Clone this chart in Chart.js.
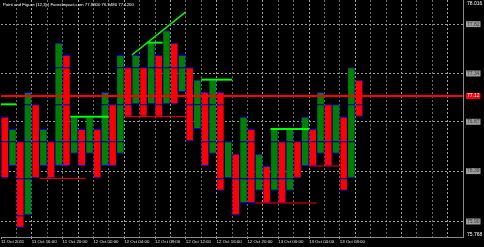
<!DOCTYPE html>
<html>
<head>
<meta charset="utf-8">
<script src="https://cdn.jsdelivr.net/npm/chart.js@4/dist/chart.umd.min.js"></script>
<style>
html,body{margin:0;padding:0;background:#000;}
#wrap{position:relative;width:484px;height:247px;}
canvas{display:block;}
</style>
</head>
<body>
<div id="wrap"><canvas id="c"></canvas></div>
<script>
// ---------------- data ----------------
const chartTitle = 'Point and Figure (12,3) | ForexImpact.com 77.8800 76.9480 77.1200';

// Point & Figure columns: X = rising column, O = falling column
const colType = ['O','X','O','X','O','X','O','X','O','X','O','X','O','X','O','X','O','X','O','X',
                 'O','X','O','X','O','X','O','X','O','X','O','X','O','X','O','X','O','X','O','X',
                 'O','X','O','X','O','X','O'];
const colHigh = [76.92,76.80,76.68,77.16,77.04,76.80,76.68,77.64,77.52,76.92,
                 76.80,76.92,76.80,77.16,77.04,77.52,77.40,77.52,77.40,77.64,
                 77.52,77.76,77.64,77.52,77.40,77.28,77.16,77.28,77.16,76.68,
                 76.56,76.92,76.80,76.56,76.44,76.80,76.68,76.80,76.68,76.92,
                 76.80,77.16,77.04,77.04,76.92,77.40,77.28];
const colLow  = [76.32,76.44,75.84,75.96,76.32,76.44,76.32,76.44,76.44,76.56,
                 76.44,76.56,76.32,76.44,76.44,76.56,76.92,77.04,76.92,77.04,
                 76.92,77.04,77.04,77.16,76.68,76.80,76.44,76.56,76.20,76.32,
                 75.96,76.08,76.08,76.20,76.08,76.20,76.08,76.20,76.32,76.44,
                 76.44,76.56,76.44,76.56,76.20,76.32,76.92];

// price levels where the columns are split (blue outlined blocks of 3 boxes)
const segLevels = [75.60,75.96,76.32,76.68,77.04,77.40,77.76,78.12];

// horizontal support/resistance lines (column positions and price)
const limeFrom  = [0, 9, 19, 26, 35];
const limeTo    = [2, 14, 21, 30, 40];
const limeLevel = [77.04, 76.92, 77.64, 77.28, 76.80];
const redFrom   = [16, 5, 33, 40];
const redTo     = [24, 11, 41, 44];
const redLevel  = [76.92, 76.32, 76.08, 76.44];
// trend line
const trendX = [17, 24];
const trendY = [77.52, 77.94];
// current price line
const priceNow = 77.12;

// axes
const slotCount = 60;
const timeLabels = ['11 Oct 2011','11 Oct 16:00','11 Oct 20:00','12 Oct 00:00','12 Oct 04:00','12 Oct 08:00',
                    '12 Oct 12:00','12 Oct 16:00','12 Oct 20:00','13 Oct 00:00','13 Oct 04:00','13 Oct 08:00'];
const gridValues = [77.82, 77.34, 76.87, 76.39, 75.90];
const axisTop = 78.016;
const axisBottom = 75.768;
const yMin = 75.749, yMax = 78.055;

// ---------------- styles ----------------
const GREEN = '#008000', RED = '#ff0000', BLUE = '#0000ff', LIME = '#00ff00';
Chart.defaults.font.family = '"Liberation Sans", Arial, sans-serif';

// ---------------- datasets ----------------
const datasets = [];
for (let b = 0; b < segLevels.length - 1; b++) {
  const data = [];
  for (let i = 0; i < colType.length; i++) {
    const lo = Math.max(colLow[i], segLevels[b]);
    const hi = Math.min(colHigh[i], segLevels[b + 1]);
    if (hi - lo > 1e-6) {
      data.push({x: i + 0.5, y: [lo, hi], col: i, bottom: Math.abs(lo - colLow[i]) < 1e-6});
    }
  }
  if (!data.length) continue;
  datasets.push({
    type: 'bar',
    data,
    order: 5,
    grouped: false,
    barPercentage: 1,
    categoryPercentage: 1,
    inflateAmount: 0,
    borderSkipped: false,
    borderColor: BLUE,
    backgroundColor: ctx => (ctx.raw && colType[ctx.raw.col] === 'X') ? GREEN : RED,
    borderWidth: ctx => ({top: 1, right: 0.6, left: 0.6, bottom: (ctx.raw && ctx.raw.bottom) ? 1 : 0})
  });
}
function lineDs(points, color, width) {
  return {type: 'line', data: points, order: 0, borderColor: color, borderWidth: width,
          pointRadius: 0, pointHoverRadius: 0, fill: false, tension: 0};
}
for (let k = 0; k < limeLevel.length; k++) {
  datasets.push(lineDs([{x: limeFrom[k], y: limeLevel[k]}, {x: limeTo[k], y: limeLevel[k]}], LIME, 2));
}
for (let k = 0; k < redLevel.length; k++) {
  datasets.push(lineDs([{x: redFrom[k], y: redLevel[k]}, {x: redTo[k], y: redLevel[k]}], RED, 1));
}
datasets.push(lineDs(trendX.map((x, k) => ({x, y: trendY[k]})), LIME, 1.5));
datasets.push(lineDs([{x: 0, y: priceNow}, {x: slotCount, y: priceNow}], RED, 2));

const titlePlugin = {
  id: 'mtTitle',
  afterDraw(chart) {
    const c = chart.ctx;
    c.save();
    c.font = '4.3px "Liberation Sans", Arial, sans-serif';
    c.fillStyle = '#ffffff';
    c.textBaseline = 'middle';
    c.fillText(chartTitle, 3, 5);
    c.restore();
  }
};

function zeroPad(scale) {
  scale.paddingTop = 0; scale.paddingBottom = 0; scale.paddingLeft = 0; scale.paddingRight = 0;
}
const isGrid = v => gridValues.some(g => Math.abs(g - v) < 1e-9);

new Chart(document.getElementById('c'), {
  type: 'bar',
  data: {datasets},
  plugins: [titlePlugin],
  options: {
    responsive: true,
    maintainAspectRatio: false,
    devicePixelRatio: 1,
    animation: false,
    events: [],
    layout: {padding: {left: 1, right: 0, top: 0, bottom: 0}},
    plugins: {legend: {display: false}, tooltip: {enabled: false}},
    scales: {
      x: {
        type: 'linear',
        min: 0, max: slotCount,
        offset: false,
        afterFit: s => { s.height = 10; zeroPad(s); },
        grid: {
          offset: false,
          drawTicks: true,
          tickLength: 2,
          lineWidth: 1,
          color: ctx => {
            if (!ctx.tick) return 'rgba(0,0,0,0)';
            const v = ctx.tick.value;
            if (v <= 0 || v >= slotCount) return 'rgba(0,0,0,0)';
            return (v % 6 === 4) ? '#a0a0a0' : '#6a6a6a';
          },
          tickColor: ctx => (ctx.tick && ctx.tick.value % 4 === 0 && ctx.tick.value / 4 < timeLabels.length) ? '#a0a0a0' : 'rgba(0,0,0,0)'
        },
        border: {display: true, color: '#8a8a8a', width: 1, dash: [2, 2]},
        ticks: {
          stepSize: 2,
          maxTicksLimit: 100,
          autoSkip: false,
          maxRotation: 0,
          minRotation: 0,
          align: 'start',
          padding: 1,
          color: '#e6e6e6',
          font: {size: 4.4, lineHeight: 1},
          callback: v => (v % 4 === 0 && timeLabels[v / 4]) ? timeLabels[v / 4] : ''
        }
      },
      y: {
        type: 'linear',
        position: 'right',
        min: yMin, max: yMax,
        beginAtZero: false,
        afterBuildTicks: s => {
          s.ticks = [axisTop, ...gridValues, priceNow, axisBottom].map(v => ({value: v}));
        },
        afterFit: s => { s.width = 21; zeroPad(s); },
        grid: {
          drawTicks: false,
          lineWidth: 1,
          color: ctx => (ctx.tick && isGrid(ctx.tick.value)) ? '#9a9a9a' : 'rgba(0,0,0,0)'
        },
        border: {display: true, color: '#8a8a8a', width: 1, dash: [2, 2]},
        ticks: {
          autoSkip: false,
          padding: 4,
          font: {size: 5, lineHeight: 1},
          callback: v => (isGrid(v) || v === priceNow) ? v.toFixed(2) : v.toFixed(3),
          color: ctx => {
            if (!ctx.tick) return '#ffffff';
            if (ctx.tick.value === priceNow) return '#ffffff';
            return isGrid(ctx.tick.value) ? '#3a3a3a' : '#ffffff';
          },
          showLabelBackdrop: ctx => !!ctx.tick && (isGrid(ctx.tick.value) || ctx.tick.value === priceNow),
          backdropColor: ctx => (ctx.tick && ctx.tick.value === priceNow) ? RED : '#9c9c9c',
          backdropPadding: {top: 0.5, bottom: 0.5, left: 1, right: 1}
        }
      }
    }
  }
});
</script>
</body>
</html>
